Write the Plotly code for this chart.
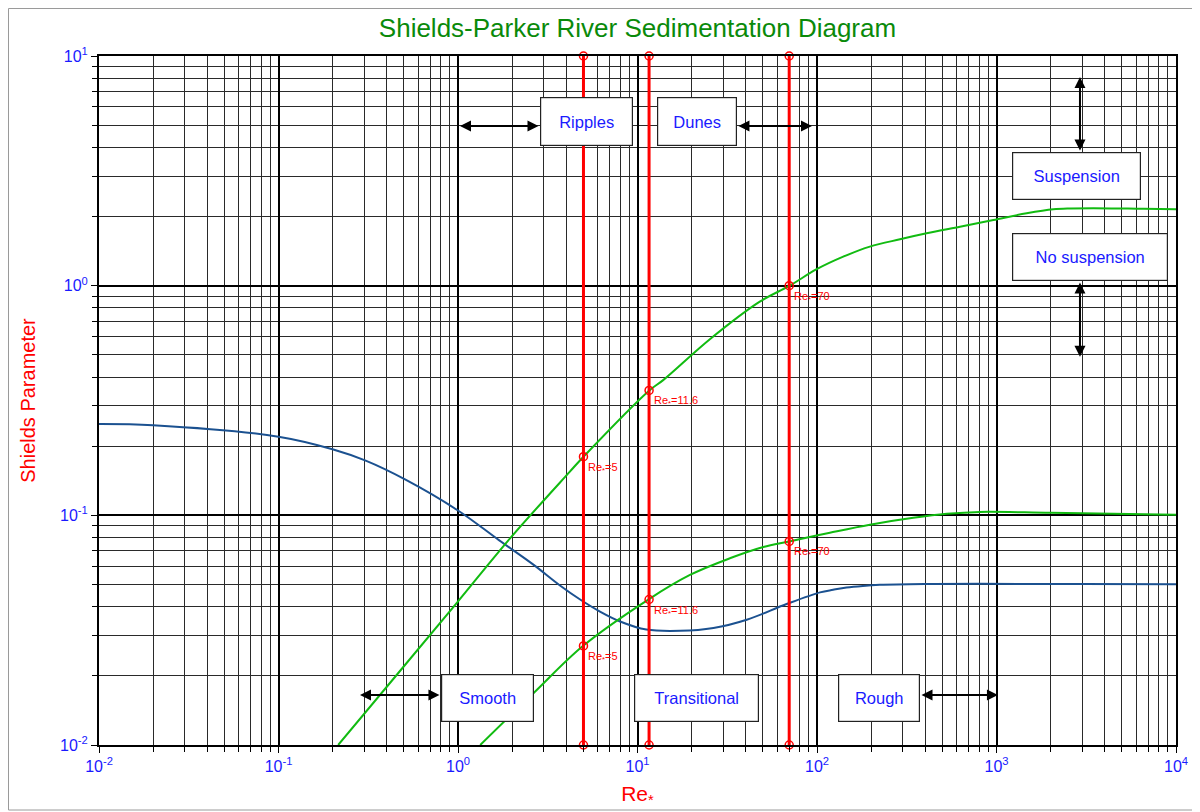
import plotly.graph_objects as go
import numpy as np

# ---------------- data ----------------
re_shields = [0.01, 0.02, 0.1, 0.2, 0.306, 0.51, 1.0, 1.69, 2.63, 3.70, 4.79, 6.18, 8.0, 11.2, 17.3,
              26.5, 40.6, 67.7, 104, 123, 146, 180, 224, 400, 810, 3000, 10000]
tau_shields = [0.25, 0.247, 0.220, 0.194, 0.173, 0.143, 0.105, 0.078, 0.061, 0.0495, 0.0430, 0.0381,
               0.0345, 0.0318, 0.0314, 0.0323, 0.0351, 0.0411, 0.0462, 0.0474, 0.0485, 0.0493, 0.0498,
               0.0502, 0.0503, 0.0502, 0.0501]

re_susp = [0.215, 0.475, 0.98, 1.95, 4.2, 5.0, 11.6, 13.9, 25.4, 48, 70, 99.6, 140, 197, 290, 408, 626,
           960, 1473, 2073, 2600, 3467, 6577, 10000]
tau_susp = [0.01, 0.021, 0.0414, 0.0794, 0.155, 0.18, 0.349, 0.388, 0.586, 0.852, 0.997, 1.179, 1.337,
            1.479, 1.592, 1.69, 1.807, 1.932, 2.066, 2.15, 2.168, 2.175, 2.16, 2.15]

re_bed = [1.33, 2.63, 5.0, 11.6, 19.6, 32.7, 50.2, 70, 118, 197, 344, 528, 810, 2000, 10000]
tau_bed = [0.01, 0.0168, 0.0271, 0.0432, 0.055, 0.065, 0.0728, 0.077, 0.0840, 0.0910, 0.0975, 0.1015,
           0.1035, 0.1025, 0.1005]

re_crit = [5, 11.6, 70]
crit_labels = ["Re<sub>*</sub>=5", "Re<sub>*</sub>=11.6", "Re<sub>*</sub>=70"]
tau_crit_upper = [0.18, 0.35, 1.0]
tau_crit_lower = [0.027, 0.043, 0.077]
tau_range = [0.01, 10]

x_tickvals = [0.01, 0.1, 1, 10, 100, 1000, 10000]
x_ticktext = ["10<sup>-2</sup>", "10<sup>-1</sup>", "10<sup>0</sup>", "10<sup>1</sup>",
              "10<sup>2</sup>", "10<sup>3</sup>", "10<sup>4</sup>"]
y_tickvals = [0.01, 0.1, 1, 10]
y_ticktext = ["10<sup>-2</sup>", "10<sup>-1</sup>", "10<sup>0</sup>", "10<sup>1</sup>"]

# ---------------- styling ----------------
FONT = "Liberation Sans, Arial, sans-serif"
BLUE_TXT = "#1a1aff"
RED = "#ff0000"
GREEN = "#11bb11"
CURVE_BLUE = "#1b5190"

# page body has an 8px margin, so the figure is sized/offset to fit the 1200x812 window
W, H = 1192, 804
ML, MR, MT, MB = 91, 24, 48, 67

fig = go.Figure()

for xs, ys, col in ((re_shields, tau_shields, CURVE_BLUE), (re_susp, tau_susp, GREEN), (re_bed, tau_bed, GREEN)):
    fig.add_trace(go.Scatter(x=xs, y=ys, mode="lines",
                             line=dict(color=col, width=2, shape="spline", smoothing=1.0),
                             showlegend=False, hoverinfo="skip"))

for rc, tu, tl in zip(re_crit, tau_crit_upper, tau_crit_lower):
    fig.add_trace(go.Scatter(x=[rc, rc], y=tau_range, mode="lines+markers",
                             line=dict(color=RED, width=3),
                             marker=dict(symbol="circle-open", size=8, color=RED, line=dict(width=1.5)),
                             cliponaxis=False, showlegend=False, hoverinfo="skip"))
    fig.add_trace(go.Scatter(x=[rc, rc], y=[tu, tl], mode="markers",
                             marker=dict(symbol="circle-open", size=8, color=RED, line=dict(width=1.5)),
                             showlegend=False, hoverinfo="skip"))

annotations = []
for rc, tu, tl, lab in zip(re_crit, tau_crit_upper, tau_crit_lower, crit_labels):
    for t in (tu, tl):
        annotations.append(dict(x=np.log10(rc), y=np.log10(t), xref="x", yref="y", text=lab,
                                showarrow=False, xanchor="left", yanchor="middle",
                                xshift=3, yshift=-11, font=dict(family=FONT, size=11, color=RED)))

# labelled boxes: (text, log10 x centre, log10 y centre, width, height)
boxes = [
    ("Ripples", 0.716, 0.715, 93, 49),
    ("Dunes", 1.331, 0.715, 80, 49),
    ("Suspension", 3.446, 0.478, 129, 48),
    ("No suspension", 3.521, 0.125, 156, 48),
    ("Smooth", 0.164, -1.795, 93, 48),
    ("Transitional", 1.329, -1.795, 125, 48),
    ("Rough", 2.345, -1.795, 82, 48),
]
for txt, bx, by, bw, bh in boxes:
    annotations.append(dict(x=bx, y=by, xref="x", yref="y", text=txt, showarrow=False,
                            width=bw - 2, height=bh - 2, align="center", valign="middle",
                            bgcolor="white", bordercolor="#222", borderwidth=1.2, borderpad=0,
                            font=dict(family=FONT, size=16.5, color=BLUE_TXT)))

# double-headed arrows: (x_tip, y_tip, x_tail, y_tail) in log10 units
arrows = [
    (0.011, 0.695, 0.457, 0.695),
    (1.972, 0.695, 1.554, 0.695),
    (-0.546, -1.782, -0.095, -1.782),
    (3.008, -1.782, 2.574, -1.782),
    (3.465, 0.909, 3.465, 0.582),
    (3.465, -0.310, 3.465, 0.0205),
]
for x1, y1, x0, y0 in arrows:
    annotations.append(dict(x=x1, y=y1, ax=x0, ay=y0, xref="x", yref="y", axref="x", ayref="y",
                            text="", showarrow=True, arrowhead=2, startarrowhead=2,
                            arrowside="end+start", arrowsize=1.1, startarrowsize=1.1,
                            arrowwidth=2, arrowcolor="black"))

pw = W - ML - MR
ph = H - MT - MB
shapes = [dict(type="rect", xref="paper", yref="paper",
               x0=(0.5 - ML) / pw, x1=(W - 2 - ML) / pw,
               y0=-(MB - 2) / ph, y1=1 + (MT - 0.5) / ph,
               line=dict(color="#9a9a9a", width=1), layer="below")]

axis_common = dict(type="log", showgrid=True, gridcolor="#000000", gridwidth=1.5,
                   ticks="outside", ticklen=6, tickcolor="black", tickwidth=1,
                   showline=True, linecolor="black", linewidth=2, mirror=True, zeroline=False,
                   automargin=False,
                   tickfont=dict(family=FONT, size=16, color=BLUE_TXT), tickmode="array",
                   minor=dict(dtick="D1", showgrid=True, gridcolor="#2a2a2a", gridwidth=1,
                              ticks="outside", ticklen=5, tickcolor="black"))

fig.update_layout(
    width=W, height=H,
    margin=dict(l=ML, r=MR, t=MT, b=MB, autoexpand=False),
    paper_bgcolor="white", plot_bgcolor="white",
    title=dict(text="Shields-Parker River Sedimentation Diagram", x=(ML + pw / 2) / W, xanchor="center",
               y=1 - 20 / H, yanchor="middle", font=dict(family=FONT, size=26, color="#0a8a0a")),
    xaxis=dict(axis_common, range=[-2, 4], tickvals=x_tickvals, ticktext=x_ticktext,
               title=dict(text="Re<sub>*</sub>", font=dict(family=FONT, size=21, color=RED), standoff=12)),
    yaxis=dict(axis_common, range=[-2, 1], tickvals=y_tickvals, ticktext=y_ticktext,
               title=dict(text="Shields Parameter", font=dict(family=FONT, size=20, color=RED), standoff=19)),
    annotations=annotations,
    shapes=shapes,
    showlegend=False,
)

fig.write_html("out.html")
